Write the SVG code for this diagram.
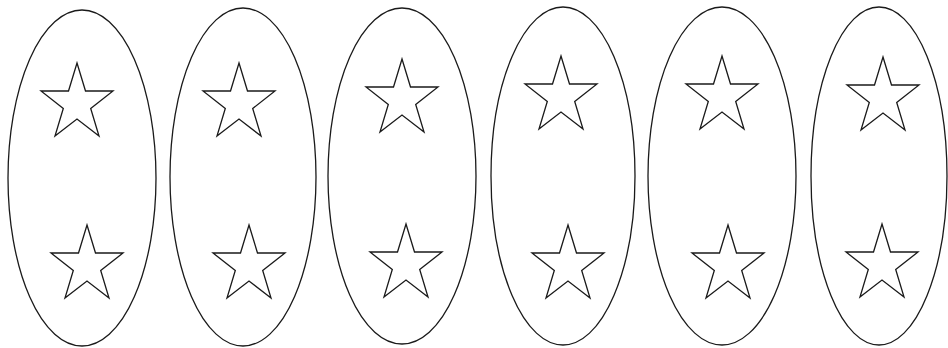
<svg xmlns="http://www.w3.org/2000/svg" xmlns:xlink="http://www.w3.org/1999/xlink" width="948" height="348" viewBox="0 0 948 348">
<style>
.ov{fill:none;stroke:#1a1a1a;stroke-width:1.3}
.st{fill:none;stroke:#1a1a1a;stroke-width:1.3;stroke-linejoin:miter}
</style>
<defs>
<polygon id="star" class="st" points="0,0 8.5,28 36,28 13.7,45.5 22,73 0,56 -22,73 -13.7,45.5 -36,28 -8.5,28"/>
</defs>
<rect width="948" height="348" fill="#fff"/>
<g id="group1">
<ellipse class="ov" cx="82" cy="178" rx="74" ry="168"/>
<use xlink:href="#star" x="77" y="63"/>
<use xlink:href="#star" x="87" y="225"/>
</g>
<g id="group2">
<ellipse class="ov" cx="243" cy="177" rx="73" ry="169"/>
<use xlink:href="#star" x="239" y="63"/>
<use xlink:href="#star" x="249" y="225"/>
</g>
<g id="group3">
<ellipse class="ov" cx="402" cy="176" rx="74" ry="168"/>
<use xlink:href="#star" x="402" y="59"/>
<use xlink:href="#star" x="406" y="224"/>
</g>
<g id="group4">
<ellipse class="ov" cx="563" cy="176" rx="72" ry="169"/>
<use xlink:href="#star" x="561" y="56"/>
<use xlink:href="#star" x="568" y="225"/>
</g>
<g id="group5">
<ellipse class="ov" cx="722" cy="176" rx="74" ry="169"/>
<use xlink:href="#star" x="722" y="56"/>
<use xlink:href="#star" x="728" y="225"/>
</g>
<g id="group6">
<ellipse class="ov" cx="879" cy="176" rx="68" ry="169"/>
<use xlink:href="#star" x="883" y="57"/>
<use xlink:href="#star" x="882" y="224"/>
</g>
<g id="connectors"/>
</svg>
